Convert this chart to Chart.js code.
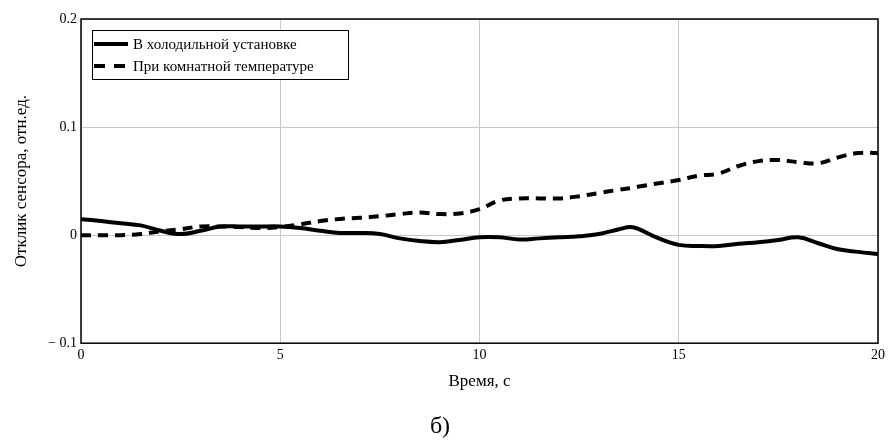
<!DOCTYPE html>
<html>
<head>
<meta charset="utf-8">
<script src="https://cdn.jsdelivr.net/npm/chart.js@4"></script>
<style>
  html, body { margin: 0; padding: 0; background: #fff; }
  #wrap { position: relative; width: 889px; height: 448px; }
  #legend {
    position: absolute; left: 92px; top: 30px; width: 257px; height: 50px;
    border: 1px solid #000; background: #fff; box-sizing: border-box;
    font-family: "Liberation Serif", "DejaVu Serif", serif; font-size: 15px; color: #000;
    padding-top: 2px;
  }
  .item { display: flex; align-items: center; height: 22px; }
  .item canvas { margin-left: 1px; margin-right: 5px; }
</style>
</head>
<body>
<div id="wrap">
  <canvas id="chart" width="889" height="448"></canvas>
  <div id="legend"></div>
</div>
<script>
// ── DATA ──────────────────────────────────────────
const seriesNames = ["В холодильной установке", "При комнатной температуре"];
const time = [0, 0.5, 1, 1.5, 2, 2.5, 3, 3.5, 4, 4.5, 5, 5.5, 6, 6.5, 7, 7.5, 8, 8.5, 9, 9.5,
              10, 10.5, 11, 11.5, 12, 12.5, 13, 13.5, 13.8, 14, 14.5, 15, 15.5, 16, 16.5, 17,
              17.5, 18, 18.5, 19, 19.5, 20];
const cold = [0.0148, 0.013, 0.011, 0.009, 0.004, 0.001, 0.004, 0.008, 0.008, 0.008, 0.008,
              0.0065, 0.004, 0.002, 0.002, 0.001, -0.003, -0.0055, -0.0065, -0.0045,
              -0.002, -0.002, -0.004, -0.003, -0.002, -0.001, 0.001, 0.0055, 0.0075, 0.0055,
              -0.003, -0.009, -0.010, -0.010, -0.008, -0.0065, -0.0045, -0.002, -0.0075,
              -0.013, -0.0155, -0.0175];
const room = [0, 0, 0, 0.001, 0.0035, 0.0055, 0.008, 0.008, 0.0075, 0.0065, 0.0075,
              0.010, 0.013, 0.015, 0.016, 0.0175, 0.0195, 0.021, 0.0195, 0.020,
              0.024, 0.032, 0.034, 0.034, 0.034, 0.036, 0.039, 0.042, 0.0435, 0.045,
              0.048, 0.051, 0.055, 0.057, 0.064, 0.0685, 0.0695, 0.0675, 0.0665,
              0.072, 0.076, 0.076];
const xTicks = [0, 5, 10, 15, 20];
const yTicks = [-0.1, 0, 0.1, 0.2];

const SERIF = "'Liberation Serif', 'DejaVu Serif', serif";
const styles = [
  { borderDash: [] },
  { borderDash: [10, 7] }
];

// frame around the plot area
const frame = {
  id: "frame",
  afterDraw(chart) {
    const { ctx, chartArea: a } = chart;
    ctx.save();
    ctx.strokeStyle = "#000";
    ctx.lineWidth = 1.5;
    ctx.strokeRect(a.left, a.top, a.right - a.left, a.bottom - a.top);
    ctx.restore();
  }
};

const toPoints = ys => time.map((t, i) => ({ x: t, y: ys[i] }));

new Chart(document.getElementById("chart"), {
  type: "line",
  data: {
    datasets: [cold, room].map((ys, i) => ({
      label: seriesNames[i],
      data: toPoints(ys),
      borderColor: "#000",
      borderWidth: 4,
      borderDash: styles[i].borderDash,
      borderCapStyle: "butt",
      pointRadius: 0,
      tension: 0.4,
      fill: false
    }))
  },
  options: {
    responsive: false,
    animation: false,
    layout: { padding: { top: 19, right: 9, left: 0, bottom: 0 } },
    plugins: {
      legend: { display: false },
      tooltip: { enabled: false },
      title: {
        display: true,
        position: "bottom",
        text: "б)",
        color: "#000",
        font: { family: SERIF, size: 24, weight: "normal" },
        padding: { top: 0, bottom: 7 }
      }
    },
    scales: {
      x: {
        type: "linear",
        min: 0, max: 20,
        afterBuildTicks: s => { s.ticks = xTicks.map(v => ({ value: v })); },
        afterFit: s => { s.height = 69; },
        grid: { color: "#c8c8c8", lineWidth: 1, drawTicks: false },
        border: { display: false },
        ticks: { color: "#000", padding: 4, font: { family: SERIF, size: 14 } },
        title: {
          display: true, text: "Время, с", color: "#000",
          font: { family: SERIF, size: 17 },
          padding: { top: 0, bottom: 20 }
        }
      },
      y: {
        min: -0.1, max: 0.2,
        afterBuildTicks: s => { s.ticks = yTicks.map(v => ({ value: v })); },
        afterFit: s => { s.width = 81; },
        grid: { color: "#c8c8c8", lineWidth: 1, drawTicks: false },
        border: { display: false },
        ticks: {
          color: "#000", padding: 4, font: { family: SERIF, size: 14 },
          callback: v => v < 0 ? "− " + Math.abs(v).toFixed(1) : (v === 0 ? "0" : v.toFixed(1))
        },
        title: {
          display: true, text: "Отклик сенсора, отн.ед.", color: "#000",
          font: { family: SERIF, size: 17 },
          padding: { top: 11, bottom: 0 }
        }
      }
    }
  },
  plugins: [frame]
});

// ── LEGEND (HTML, inside plot) ─────────────────────
const legend = document.getElementById("legend");
seriesNames.forEach((name, i) => {
  const row = document.createElement("div");
  row.className = "item";
  const c = document.createElement("canvas");
  c.width = 34; c.height = 8;
  const g = c.getContext("2d");
  g.strokeStyle = "#000";
  g.lineWidth = 4;
  g.setLineDash(styles[i].borderDash.length ? [11, 9] : []);
  g.beginPath(); g.moveTo(0, 4); g.lineTo(34, 4); g.stroke();
  row.appendChild(c);
  const span = document.createElement("span");
  span.textContent = name;
  row.appendChild(span);
  legend.appendChild(row);
});
</script>
</body>
</html>
